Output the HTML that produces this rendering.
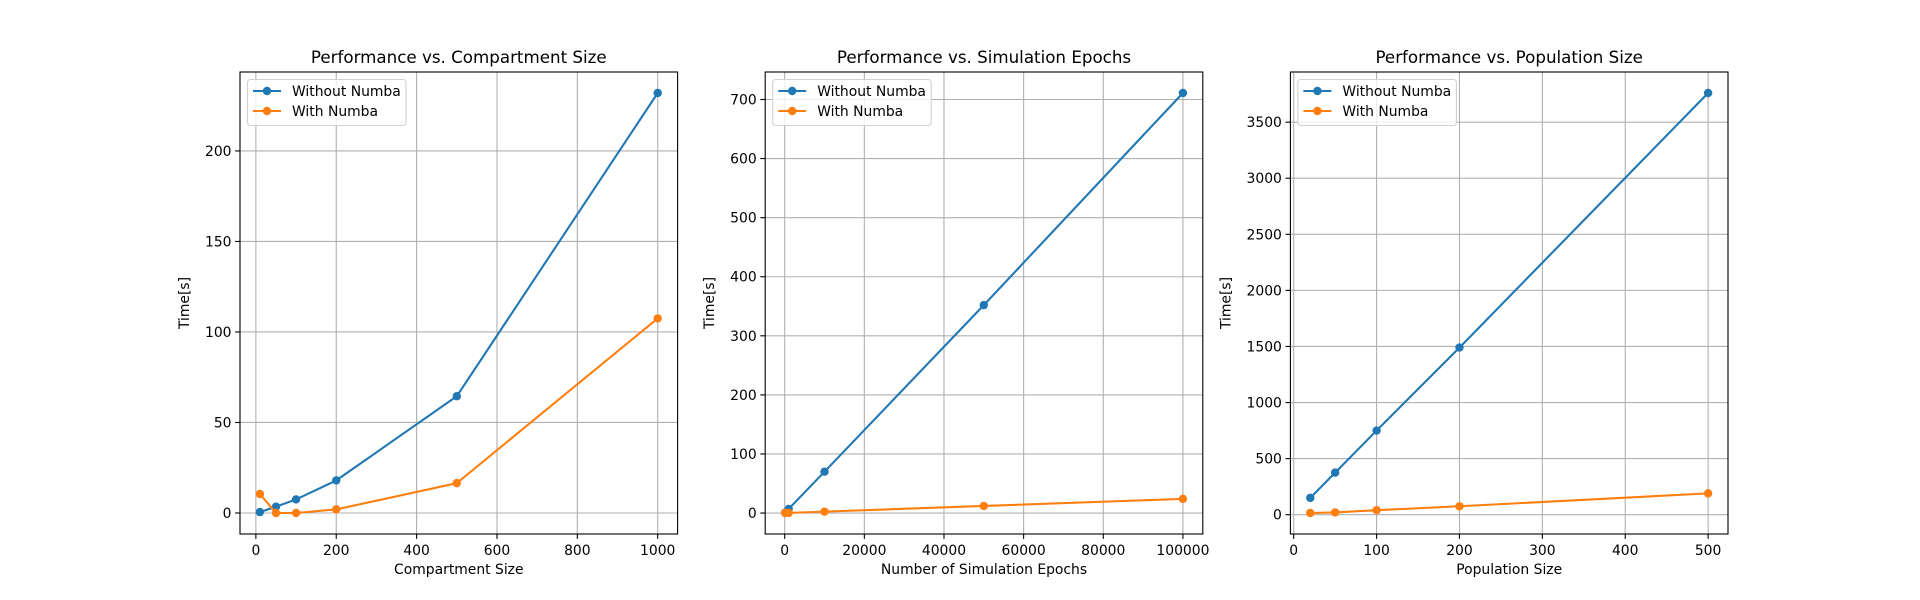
<!DOCTYPE html>
<html><head><meta charset="utf-8"><style>
body{margin:0;background:#fff}
svg{display:block;font-family:"DejaVu Sans","Liberation Sans",sans-serif}
</style></head><body>
<svg id="fig" width="1920" height="600" viewBox="0 0 1920 600"></svg>
<script>
const c1X=[10,50,100,200,500,1000];
const c1Without=[0.5,3.5,7.5,18,64.5,232];
const c1With=[10.5,0,0,2,16.5,107.5];
const c1XTicks=[0,200,400,600,800,1000];
const c1YTicks=[0,50,100,150,200];

const c2X=[100,1000,10000,50000,100000];
const c2Without=[0.7,7,70,352,711];
const c2With=[0.1,0.3,2.4,12,24];
const c2XTicks=[0,20000,40000,60000,80000,100000];
const c2YTicks=[0,100,200,300,400,500,600,700];

const c3X=[20,50,100,200,500];
const c3Without=[150,375,750,1490,3760];
const c3With=[15,20,40,75,190];
const c3XTicks=[0,100,200,300,400,500];
const c3YTicks=[0,500,1000,1500,2000,2500,3000,3500];

const NS="http://www.w3.org/2000/svg";
const fig=document.getElementById('fig');
function mk(p,tag,attrs,txt){const e=document.createElementNS(NS,tag);for(const k in attrs)e.setAttribute(k,attrs[k]);if(txt!==undefined)e.textContent=txt;p.appendChild(e);return e;}
const FS=13.9;
function chart(idx,left,xs,s1,s2,xt,yt,title,xlabel){
  const top=72,h=462,w=437.6;
  const all=s1.concat(s2);
  const ymin=Math.min(...all),ymax=Math.max(...all),yr=ymax-ymin;
  const y0=ymin-0.05*yr,y1=ymax+0.05*yr;
  const xmin=Math.min(...xs),xmax=Math.max(...xs),xr=xmax-xmin;
  const x0=xmin-0.05*xr,x1=xmax+0.05*xr;
  const sx=v=>left+(v-x0)/(x1-x0)*w;
  const sy=v=>top+h-(v-y0)/(y1-y0)*h;
  const g=mk(fig,'g',{});
  
  
  xt.forEach(t=>{const x=sx(t);
    const l=mk(g,'line',{x1:x,x2:x,y1:top,y2:top+h,stroke:'#b0b0b0','stroke-width':1.1});
    
    mk(g,'line',{x1:x,x2:x,y1:top+h,y2:top+h+4.9,stroke:'#000','stroke-width':1.1});
    const tx=mk(g,'text',{x:x,y:555,'font-size':FS,'text-anchor':'middle'},String(t));
    
  });
  let maxLen=0;
  yt.forEach(t=>{const y=sy(t);maxLen=Math.max(maxLen,String(t).length);
    const l=mk(g,'line',{x1:left,x2:left+w,y1:y,y2:y,stroke:'#b0b0b0','stroke-width':1.1});
    
    mk(g,'line',{x1:left-4.9,x2:left,y1:y,y2:y,stroke:'#000','stroke-width':1.1});
    const tx=mk(g,'text',{x:left-8.5,y:y+5,'font-size':FS,'text-anchor':'end'},String(t));
    
  });
  [[s1,'#1f77b4','without-numba'],[s2,'#ff7f0e','with-numba']].forEach(([s,col,nm])=>{
    const pl=mk(g,'polyline',{points:xs.map((x,i)=>sx(x)+','+sy(s[i])).join(' '),fill:'none',stroke:col,'stroke-width':2.08});
    
    xs.forEach((x,i)=>{const c=mk(g,'circle',{cx:sx(x),cy:sy(s[i]),r:4.2,fill:col});
      });
  });
  const fr=mk(g,'rect',{x:left,y:top,width:w,height:h,fill:'none',stroke:'#000','stroke-width':1.1});
  
  const ti=mk(g,'text',{x:left+w/2,y:63,'font-size':16.7,'text-anchor':'middle'},title);
  
  const xl=mk(g,'text',{x:left+w/2,y:574,'font-size':FS,'text-anchor':'middle'},xlabel);
  
  const yx=left-8.5-maxLen*8.85-16;
  const yl=mk(g,'text',{x:yx,y:top+h/2,'font-size':FS,'text-anchor':'middle',transform:'rotate(-90 '+yx+' '+(top+h/2)+')'},'Time[s]');
  
  const lg=mk(g,'g',{});
  
  mk(lg,'rect',{x:left+7.5,y:79.5,width:158.5,height:46,rx:3,fill:'#fff','fill-opacity':0.8,stroke:'#d0d0d0','stroke-width':1.1});
  [['Without Numba','#1f77b4',91],['With Numba','#ff7f0e',111]].forEach(([t,col,y])=>{
    const e=mk(lg,'g',{});
    
    mk(e,'line',{x1:left+13,x2:left+41,y1:y,y2:y,stroke:col,'stroke-width':2.08});
    mk(e,'circle',{cx:left+27,cy:y,r:4.2,fill:col});
    mk(e,'text',{x:left+52,y:y+5,'font-size':FS},t);
  });
}
chart(1,240,c1X,c1Without,c1With,c1XTicks,c1YTicks,'Performance vs. Compartment Size','Compartment Size');
chart(2,765.2,c2X,c2Without,c2With,c2XTicks,c2YTicks,'Performance vs. Simulation Epochs','Number of Simulation Epochs');
chart(3,1290.4,c3X,c3Without,c3With,c3XTicks,c3YTicks,'Performance vs. Population Size','Population Size');
</script>
</body></html>
